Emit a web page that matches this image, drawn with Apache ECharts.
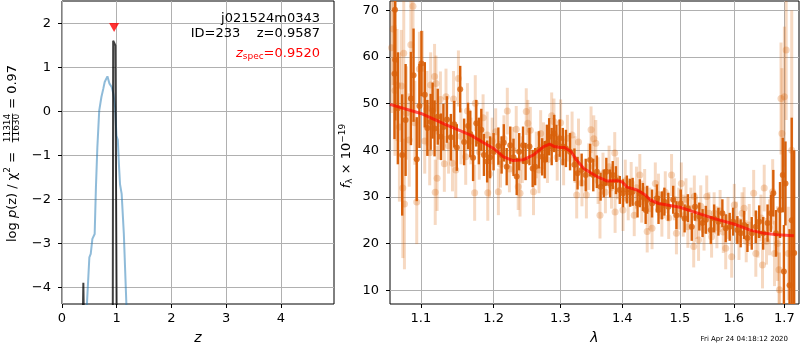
<!DOCTYPE html>
<html><head><meta charset="utf-8">
<script src="https://cdn.jsdelivr.net/npm/echarts@6/dist/echarts.min.js"></script>
<style>html,body{margin:0;padding:0;background:#fff}#main{width:800px;height:350px}</style>
</head><body><div id="main"></div>
<script>
// ---------- Left panel: redshift probability ----------
const zTicks = [0, 1, 2, 3, 4];
const logPTicks = [-4, -3, -2, -1, 0, 1, 2];
const blueZ = [0.45,0.50,0.525,0.555,0.597,0.62,0.646,0.68,0.72,0.755,0.78,0.83,0.865,0.91,0.94,0.97,0.995,1.02,1.04,1.06,1.09,1.13,1.18];
const blueLogP = [-4.5,-3.31,-3.23,-2.89,-2.78,-1.72,-0.81,0.02,0.33,0.52,0.67,0.80,0.64,0.55,0.40,0.10,-0.55,-0.65,-1.2,-1.65,-1.87,-2.78,-4.5];
const spikeZ = [0.383, 0.39, 0.397];
const spikeLogP = [-4.5, -3.89, -4.5];
const peakZ = [0.928, 0.935, 0.975, 0.99, 0.998];
const peakLogP = [-4.5, 1.61, 1.50, 1.47, -4.5];
const zSpecZ = [0.952];
const zSpecMark = [1.91];

// ---------- Right panel: spectrum ----------
const lamTicks = [1.1, 1.2, 1.3, 1.4, 1.5, 1.6, 1.7];
const fluxTicks = [10, 20, 30, 40, 50, 60, 70];
const modelW = [1.06,1.1,1.1347,1.1668,1.2,1.2144,1.2282,1.2439,1.2589,1.2741,1.2833,1.2906,1.3,1.3064,1.3169,1.3253,1.3369,1.3586,1.3749,1.3915,1.4,1.4083,1.4252,1.4393,1.4477,1.4624,1.5,1.5311,1.5618,1.6,1.6321,1.6594,1.6855,1.7195];
const modelF = [49.85,47.9,45.4,43.3,40.4,38.6,37.8,38.0,39.0,40.8,41.35,40.8,40.6,40.6,39.7,37.9,36.1,34.35,33.4,33.5,33.2,32.1,31.5,30.4,29.35,28.6,27.8,26.6,25.4,24.2,22.9,22.2,21.9,21.7];

const darkW = [
1.0657,1.0663,1.0666,1.0700,1.0756,1.0800,1.0869,1.0903,1.0945,1.0980,
1.1007,1.1051,1.1085,1.1129,1.1155,1.1181,1.1224,1.1268,1.1300,1.1348,
1.1402,1.1448,1.1483,1.1530,1.1584,1.1639,1.1670,1.1709,1.1754,1.1790,
1.1825,1.1862,1.1908,1.1950,1.2000,1.2069,1.2116,1.2148,1.2190,1.2242,
1.2290,1.2337,1.2374,1.2431,1.2469,1.2527,1.2575,1.2613,1.2671,1.2719,
1.2758,1.2791,1.2826,1.2865,1.2904,1.2938,1.2989,1.3037,1.3086,1.3151,
1.3220,1.3270,1.3335,1.3400,1.3471,1.3522,1.3580,1.3641,1.3693,1.3735,
1.3798,1.3841,1.3894,1.3958,1.4012,1.4077,1.4132,1.4175,1.4258,1.4297,
1.4350,1.4397,1.4424,1.4508,1.4593,1.4621,1.4680,1.4724,1.4793,1.4880,
1.4938,1.5015,1.5085,1.5144,1.5215,1.5274,1.5353,1.5413,1.5474,1.5566,
1.5628,1.5708,1.5783,1.5846,1.5922,1.5986,1.6069,1.6133,1.6199,1.6264,
1.6348,1.6428,1.6494,1.6574,1.6661,1.6728,1.6776,1.6830,1.6911,1.6967,
1.6990,1.7022,1.7105,1.7150,1.7200];
const darkF = [
56.4,70.1,59.4,49.0,39.0,46.5,51.1,56.1,38.1,49.5,
58.6,51.9,44.8,46.1,48.5,44.7,47.2,42.9,45.0,46.6,
42.8,45.6,40.6,53.1,41.8,45.2,43.5,38.4,45.8,42.0,
44.4,39.0,37.6,38.5,39.7,40.9,39.0,41.6,36.5,41.1,
38.5,34.4,39.7,41.1,37.6,40.8,36.1,36.5,40.1,38.6,
38.0,41.5,42.9,40.8,43.6,41.5,42.6,40.8,40.4,39.7,
36.9,35.1,35.8,34.7,37.9,34.7,35.4,32.2,32.9,35.4,
32.9,34.7,33.6,31.5,30.8,31.6,30.9,31.1,28.6,30.8,
30.0,27.2,29.4,28.6,29.7,27.2,28.2,29.0,27.9,29.4,
26.1,28.6,25.4,27.6,23.6,27.9,25.8,24.4,25.1,22.9,
25.4,24.7,26.5,23.3,23.6,24.7,22.9,22.2,24.0,21.2,
22.2,23.6,24.7,22.2,24.4,26.5,30.8,22.2,27.2,34.7,
14.0,32.9,11.1,25.0,18.0];
const darkE = [
14,16,13,12,13,12,10,10,9,9,
7,7,6,6,6,6,6,5,5,5,
5,5,5,5,5,5,5,5,5,5,
4.5,4.5,4.5,4.5,4,4,4,4,4,4,
4,4,4,4,4,4,4,4,4,4,
4,4,4,4,4,4,4,4,4,4,
3.5,3.5,3.5,3.5,3.5,3.5,3.5,3,3,3,
3,3,3,3,3,3,3,3,3,3,
3,3,3,3,3,3,3,3,3,3,
3,3,3,3,3,3,3,3,3,3,
3,3,3,3,3,3,3,3,3,3,
3.5,3.5,3.5,3.5,4,4,5,5,6,8,
10,9,12,22,22];

const lightW = [
1.0620,1.0640,1.0663,1.0690,1.0720,1.0744,1.0764,1.0776,1.0785,1.0810,
1.0847,1.0868,1.0896,1.0920,1.0945,1.0980,1.1020,1.1050,1.1080,1.1116,
1.1129,1.1181,1.1190,1.1200,1.1215,1.1240,1.1260,1.1313,1.1335,1.1370,
1.1424,1.1438,1.1469,1.1505,1.1540,1.1606,1.1630,1.1680,1.1731,1.1740,
1.1796,1.1850,1.1908,1.1917,1.1940,1.1980,1.2030,1.2069,1.2100,1.2150,
1.2199,1.2230,1.2280,1.2330,1.2359,1.2386,1.2420,1.2479,1.2502,1.2540,
1.2588,1.2630,1.2671,1.2696,1.2740,1.2800,1.2865,1.2900,1.2950,1.3003,
1.3050,1.3109,1.3183,1.3230,1.3256,1.3285,1.3340,1.3411,1.3450,1.3486,
1.3530,1.3563,1.3600,1.3631,1.3680,1.3720,1.3780,1.3820,1.3874,1.3880,
1.3920,1.4012,1.4050,1.4100,1.4150,1.4202,1.4240,1.4297,1.4330,1.4380,
1.4424,1.4470,1.4508,1.4565,1.4620,1.4680,1.4740,1.4800,1.4851,1.4900,
1.4938,1.4980,1.5026,1.5060,1.5110,1.5144,1.5200,1.5250,1.5262,1.5300,
1.5339,1.5380,1.5440,1.5490,1.5530,1.5580,1.5628,1.5680,1.5740,1.5800,
1.5846,1.5890,1.5960,1.6010,1.6050,1.6100,1.6160,1.6199,1.6240,1.6300,
1.6386,1.6428,1.6470,1.6530,1.6560,1.6594,1.6640,1.6700,1.6763,1.6800,
1.6860,1.6890,1.6900,1.6931,1.6950,1.7000,1.7036,1.7080,1.7150];
const lightF = [
62,66,52.8,54,45,53.8,31.9,60.8,28.5,48,
42.2,62.6,70.9,45.9,28.9,57.4,57.6,42,49,39.5,
54.0,55.8,31.0,54.3,34.0,44,50.9,37.1,51.5,41,
37.2,51.0,35.8,55.4,43,38.6,48.4,42,30.9,50.1,
39.7,47,43.3,30.9,34.9,42,44,31.1,37,42.5,
48.4,36,40,44.5,32.2,30.8,38,48.3,45.8,44.3,
31.1,39,35.8,43.6,41,38,47.4,46.1,38.5,45.9,
37.5,42.6,43.3,38,30.4,41.8,33,30.4,36.5,44.4,
42.5,41.5,33.5,26.1,35,31,36.5,32,39.4,26.8,
34,27.2,33.5,29.5,33,26.1,32,34.7,29,31.5,
22.6,27.5,23.3,32.9,30.5,26,31,25.5,34.7,29.5,
22.2,27.5,32.9,26,29.5,23.6,27.5,19.4,30.1,25.5,
20.8,28,23,30.1,26.5,21.5,26.5,23.5,27,22.5,
19.0,25.5,17.2,28.3,24.5,21,26.5,27.6,20.5,24,
30.8,17.9,22,25.5,15.4,31.9,20.5,23.5,31.1,17.9,
20,14.4,10.1,51.1,43.6,51.5,61.5,17.9,40];
const lightE = [
14,12,14,12,16,12,15,12,14,10,
10,10,10,9,9,8,8,7,8,7,
7,7,7,6,7,6,6,6,6,6,
6,6,6,6,6,6,6,5,6,6,
6,5,5,6,5,5,5,5,5,5,
5,5,5,5,5,5,5,5,5,5,
5,5,5,5,5,5,5,5,5,5,
5,5,5,5,5,5,5,5,5,5,
5,5,5,5,4.5,4.5,4.5,4.5,4.5,4.5,
4.5,4.5,4.5,4.5,4.5,4.5,4.5,4.5,4.5,4.5,
4.5,4.5,4.5,4.5,4.5,4.5,4.5,4.5,4.5,4.5,
4.5,4.5,4.5,4.5,4.5,4.5,4.5,4.5,4.5,4.5,
4.5,4.5,4.5,4.5,4.5,4.5,4.5,4.5,4.5,4.5,
4.5,4.5,4.5,4.5,4.5,4.5,4.5,4.5,4.5,4.5,
5,5,5,5,5,5,5,6,7,7,
8,8,8,12,14,15,15,10,30];

// ---------- helpers ----------
const FONT = 'DejaVu Sans';
const zip = (a, b) => a.map((v, i) => [v, b[i]]);
const zip3 = (a, b, c) => a.map((v, i) => [v, b[i], c[i]]);
const minus = v => String(v).replace('-', '\u2212');
function errBar(color, width) {
  return function (params, api) {
    const x = api.value(0), y = api.value(1), e = api.value(2);
    const p1 = api.coord([x, y - e]), p2 = api.coord([x, y + e]);
    return { type: 'line', shape: { x1: p1[0], y1: p1[1], x2: p2[0], y2: p2[1] },
             style: { stroke: color, lineWidth: width } };
  };
}
const ORANGE = '#d8600a';
const LIGHT_BAR = 'rgba(217,95,2,0.24)';
const LIGHT_DOT = 'rgba(217,95,2,0.32)';

const axisCommon = {
  axisLine: { show: false, onZero: false },
  axisTick: { show: true, length: 4, lineStyle: { color: '#000', width: 1 } },
  axisLabel: { color: '#000', fontSize: 13, fontFamily: FONT },
  splitLine: { show: true, lineStyle: { color: '#b0b0b0', width: 1 } }
};
function ax(extra, ticks, labelExtra) {
  return Object.assign({}, axisCommon, extra, {
    axisTick: Object.assign({}, axisCommon.axisTick, { customValues: ticks }),
    axisLabel: Object.assign({}, axisCommon.axisLabel, { customValues: ticks }, labelExtra || {})
  });
}

const chart = echarts.init(document.getElementById('main'), null, { renderer: 'canvas' });
const option = {
  animation: false,
  backgroundColor: '#fff',
  textStyle: { fontFamily: FONT },
  grid: [
    { left: 62, top: 1, width: 272, height: 303, show: true, borderColor: '#000', borderWidth: 1,
      backgroundColor: 'transparent', containLabel: false, outerBoundsMode: 'none' },
    { left: 390, top: 1, width: 409, height: 303, show: true, borderColor: '#000', borderWidth: 1,
      backgroundColor: 'transparent', containLabel: false, outerBoundsMode: 'none' }
  ],
  xAxis: [
    ax({ gridIndex: 0, type: 'value', min: 0, max: 4.97, position: 'bottom', name: 'z', nameLocation: 'middle', nameGap: 27,
         nameTextStyle: { fontStyle: 'italic', fontSize: 14, color: '#000', fontFamily: FONT } },
       zTicks, { margin: 8 }),
    ax({ gridIndex: 1, type: 'log', logBase: 10, min: 1.06, max: 1.73, position: 'bottom', name: 'λ', nameLocation: 'middle', nameGap: 27,
         nameTextStyle: { fontStyle: 'italic', fontSize: 14, color: '#000', fontFamily: FONT } },
       lamTicks, { margin: 8, formatter: v => Number(v).toFixed(1) })
  ],
  yAxis: [
    ax({ gridIndex: 0, type: 'value', min: -4.37, max: 2.51, position: 'left' }, logPTicks, { margin: 11, formatter: minus }),
    ax({ gridIndex: 1, type: 'value', min: 7.06, max: 72, position: 'left' }, fluxTicks, { margin: 11 })
  ],
  series: [
    { type: 'line', xAxisIndex: 0, yAxisIndex: 0, data: zip(blueZ, blueLogP), showSymbol: false, clip: true,
      lineStyle: { color: 'rgba(31,119,180,0.5)', width: 2 }, z: 2 },
    { type: 'line', xAxisIndex: 0, yAxisIndex: 0, data: zip(spikeZ, spikeLogP), showSymbol: false, clip: true,
      lineStyle: { color: 'rgba(0,0,0,0.75)', width: 2 }, z: 3 },
    { type: 'line', xAxisIndex: 0, yAxisIndex: 0, data: zip(peakZ, peakLogP), showSymbol: false, clip: true,
      lineStyle: { color: 'rgba(0,0,0,0.75)', width: 2 }, z: 3 },
    { type: 'scatter', xAxisIndex: 0, yAxisIndex: 0, data: zip(zSpecZ, zSpecMark), symbol: 'triangle',
      symbolRotate: 180, symbolSize: [10, 9], itemStyle: { color: '#ff0000' }, z: 4 },

    { type: 'custom', xAxisIndex: 1, yAxisIndex: 1, data: zip3(lightW, lightF, lightE), clip: true,
      renderItem: errBar(LIGHT_BAR, 3), z: 2 },
    { type: 'scatter', xAxisIndex: 1, yAxisIndex: 1, data: zip(lightW, lightF), symbolSize: 7, clip: true,
      itemStyle: { color: LIGHT_DOT }, z: 3 },
    { type: 'custom', xAxisIndex: 1, yAxisIndex: 1, data: zip3(darkW, darkF, darkE), clip: true,
      renderItem: errBar(ORANGE, 2.4), z: 4 },
    { type: 'scatter', xAxisIndex: 1, yAxisIndex: 1, data: zip(darkW, darkF), symbolSize: 6, clip: true,
      itemStyle: { color: ORANGE }, z: 5 },
    { type: 'line', xAxisIndex: 1, yAxisIndex: 1, data: zip(modelW, modelF), showSymbol: false, clip: true,
      lineStyle: { color: 'rgba(255,0,0,0.65)', width: 3 }, z: 6 }
  ],
  graphic: [
    { type: 'text', x: 320, y: 19, z: 100,
      style: { text: 'j021524m0343', fontSize: 13, fontFamily: FONT, fill: '#000', align: 'right', verticalAlign: 'middle' } },
    { type: 'text', x: 320, y: 34, z: 100,
      style: { text: 'ID=233    z=0.9587', fontSize: 13, fontFamily: FONT, fill: '#000', align: 'right', verticalAlign: 'middle' } },
    { type: 'text', x: 320, y: 54, z: 100,
      style: { text: '{i|z}{s|spec}{n|=0.9520}', fontSize: 13, fontFamily: FONT, fill: '#ff0000', align: 'right', verticalAlign: 'middle',
        rich: { i: { fontSize: 13, fontStyle: 'italic', fontFamily: FONT, fill: '#ff0000' },
                s: { fontSize: 9, fontFamily: FONT, fill: '#ff0000', padding: [6, 0, 0, 0] },
                n: { fontSize: 13, fontFamily: FONT, fill: '#ff0000' } } } },
    { type: 'group', x: 12.5, y: 242, rotation: Math.PI / 2, z: 100,
      children: [
        { type: 'text', x: 0, y: 0,
          style: { text: '{n|log }{i|p}{n|(z) / χ}{p|2}{n| = }', fontSize: 13, fontFamily: FONT, fill: '#000', align: 'left', verticalAlign: 'middle',
            rich: { n: { fontSize: 13, fontFamily: FONT, fill: '#000' },
                    i: { fontSize: 13, fontStyle: 'italic', fontFamily: FONT, fill: '#000' },
                    p: { fontSize: 9, fontFamily: FONT, fill: '#000', padding: [0, 0, 9, 0] } } } },
        { type: 'text', x: 114, y: -4.5,
          style: { text: '11314', fontSize: 9, fontFamily: FONT, fill: '#000', align: 'center', verticalAlign: 'middle' } },
        { type: 'line', shape: { x1: 99.5, y1: 0, x2: 128.5, y2: 0 }, style: { stroke: '#000', lineWidth: 0.8 } },
        { type: 'text', x: 114, y: 4.5,
          style: { text: '11630', fontSize: 9, fontFamily: FONT, fill: '#000', align: 'center', verticalAlign: 'middle' } },
        { type: 'text', x: 129, y: 0,
          style: { text: ' = 0.97', fontSize: 13, fontFamily: FONT, fill: '#000', align: 'left', verticalAlign: 'middle' } }
      ] },
    { type: 'text', x: 347, y: 156, rotation: Math.PI / 2, z: 100,
      style: { text: '{i|f}{s|λ}{n| × 10}{p|−19}', fontSize: 13, fontFamily: FONT, fill: '#000', align: 'center', verticalAlign: 'middle',
        rich: { i: { fontSize: 13, fontStyle: 'italic', fontFamily: FONT, fill: '#000' },
                s: { fontSize: 9, fontFamily: FONT, fill: '#000', padding: [6, 0, 0, 0] },
                n: { fontSize: 13, fontFamily: FONT, fill: '#000' },
                p: { fontSize: 9, fontFamily: FONT, fill: '#000', padding: [0, 0, 9, 0] } } } },
    { type: 'text', x: 788, y: 339, z: 100,
      style: { text: 'Fri Apr 24 04:18:12 2020', fontSize: 7, fontFamily: FONT, fill: '#000', align: 'right', verticalAlign: 'middle' } }
  ]
};
chart.setOption(option);
</script>
</body></html>
